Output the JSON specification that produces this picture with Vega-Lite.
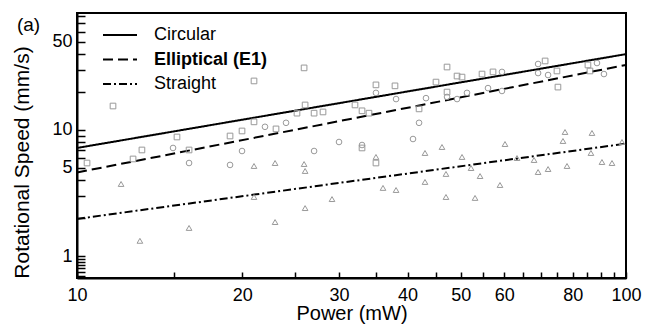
{
  "$schema": "https://vega.github.io/schema/vega-lite/v6.json",
  "width": 549,
  "height": 265,
  "autosize": {"type": "none"},
  "padding": {"left": 77, "top": 13, "right": 20, "bottom": 49},
  "background": "white",
  "config": {
    "font": "Liberation Sans",
    "view": {"stroke": "black", "strokeWidth": 2},
    "axis": {
      "domainColor": "black", "domainWidth": 2, "tickColor": "black", "tickWidth": 1.5,
      "labelColor": "black", "titleColor": "black", "grid": false,
      "labelFont": "Liberation Sans", "titleFont": "Liberation Sans",
      "labelFontSize": 18, "titleFontSize": 21, "titleFontWeight": "normal",
      "labelFlush": false, "labelOverlap": false
    }
  },
  "title": {"text": "(a)", "anchor": "start", "frame": "bounds", "fontSize": 19, "fontWeight": "normal", "font": "Liberation Sans", "offset": 0, "dy": 28, "dx": 5, "color": "black"},
  "datasets": {
    "pts": [
      {"marker": "Circular data", "power": 10.43, "speed": 5.47},
      {"marker": "Circular data", "power": 11.63, "speed": 15.5},
      {"marker": "Circular data", "power": 13.13, "speed": 6.94},
      {"marker": "Circular data", "power": 12.65, "speed": 5.89},
      {"marker": "Circular data", "power": 15.21, "speed": 8.8},
      {"marker": "Circular data", "power": 16.0, "speed": 6.94},
      {"marker": "Circular data", "power": 19.0, "speed": 8.96},
      {"marker": "Circular data", "power": 19.98, "speed": 9.82},
      {"marker": "Circular data", "power": 21.01, "speed": 11.6},
      {"marker": "Circular data", "power": 23.04, "speed": 10.2},
      {"marker": "Circular data", "power": 21.01, "speed": 24.5},
      {"marker": "Circular data", "power": 25.92, "speed": 31.1},
      {"marker": "Circular data", "power": 26.03, "speed": 15.8},
      {"marker": "Circular data", "power": 25.16, "speed": 13.6},
      {"marker": "Circular data", "power": 27.03, "speed": 13.6},
      {"marker": "Circular data", "power": 28.06, "speed": 13.9},
      {"marker": "Circular data", "power": 32.09, "speed": 15.8},
      {"marker": "Circular data", "power": 33.05, "speed": 14.2},
      {"marker": "Circular data", "power": 34.03, "speed": 13.6},
      {"marker": "Circular data", "power": 35.04, "speed": 22.8},
      {"marker": "Circular data", "power": 37.95, "speed": 22.4},
      {"marker": "Circular data", "power": 45.07, "speed": 24.0},
      {"marker": "Circular data", "power": 41.98, "speed": 14.7},
      {"marker": "Circular data", "power": 47.21, "speed": 31.6},
      {"marker": "Circular data", "power": 49.23, "speed": 26.8},
      {"marker": "Circular data", "power": 50.27, "speed": 26.3},
      {"marker": "Circular data", "power": 47.21, "speed": 20.0},
      {"marker": "Circular data", "power": 54.67, "speed": 27.8},
      {"marker": "Circular data", "power": 57.25, "speed": 28.9},
      {"marker": "Circular data", "power": 71.23, "speed": 35.3},
      {"marker": "Circular data", "power": 74.86, "speed": 29.4},
      {"marker": "Circular data", "power": 75.17, "speed": 21.9},
      {"marker": "Circular data", "power": 85.25, "speed": 32.8},
      {"marker": "Circular data", "power": 85.97, "speed": 29.4},
      {"marker": "Circular data", "power": 33.05, "speed": 7.2},
      {"marker": "Circular data", "power": 35.04, "speed": 5.47},
      {"marker": "Elliptical data", "power": 14.96, "speed": 7.2},
      {"marker": "Elliptical data", "power": 16.0, "speed": 5.47},
      {"marker": "Elliptical data", "power": 19.0, "speed": 5.28},
      {"marker": "Elliptical data", "power": 19.98, "speed": 6.81},
      {"marker": "Elliptical data", "power": 22.0, "speed": 10.6},
      {"marker": "Elliptical data", "power": 24.03, "speed": 11.4},
      {"marker": "Elliptical data", "power": 27.03, "speed": 6.81},
      {"marker": "Elliptical data", "power": 30.01, "speed": 8.03},
      {"marker": "Elliptical data", "power": 33.05, "speed": 7.6},
      {"marker": "Elliptical data", "power": 35.04, "speed": 19.7},
      {"marker": "Elliptical data", "power": 38.12, "speed": 17.6},
      {"marker": "Elliptical data", "power": 41.98, "speed": 11.4},
      {"marker": "Elliptical data", "power": 40.93, "speed": 8.48},
      {"marker": "Elliptical data", "power": 43.22, "speed": 17.9},
      {"marker": "Elliptical data", "power": 47.21, "speed": 18.3},
      {"marker": "Elliptical data", "power": 49.23, "speed": 17.6},
      {"marker": "Elliptical data", "power": 51.33, "speed": 19.7},
      {"marker": "Elliptical data", "power": 56.06, "speed": 21.5},
      {"marker": "Elliptical data", "power": 59.44, "speed": 20.4},
      {"marker": "Elliptical data", "power": 59.44, "speed": 28.9},
      {"marker": "Elliptical data", "power": 69.16, "speed": 33.4},
      {"marker": "Elliptical data", "power": 69.16, "speed": 28.3},
      {"marker": "Elliptical data", "power": 72.12, "speed": 27.3},
      {"marker": "Elliptical data", "power": 88.54, "speed": 34.0},
      {"marker": "Elliptical data", "power": 91.17, "speed": 27.8},
      {"marker": "Straight data", "power": 12.03, "speed": 3.73},
      {"marker": "Straight data", "power": 13.02, "speed": 1.32},
      {"marker": "Straight data", "power": 16.0, "speed": 1.67},
      {"marker": "Straight data", "power": 21.01, "speed": 5.18},
      {"marker": "Straight data", "power": 21.01, "speed": 2.94},
      {"marker": "Straight data", "power": 22.95, "speed": 5.47},
      {"marker": "Straight data", "power": 22.95, "speed": 1.86},
      {"marker": "Straight data", "power": 25.92, "speed": 5.37},
      {"marker": "Straight data", "power": 26.03, "speed": 4.73},
      {"marker": "Straight data", "power": 26.03, "speed": 2.4},
      {"marker": "Straight data", "power": 29.14, "speed": 2.83},
      {"marker": "Straight data", "power": 35.04, "speed": 6.11},
      {"marker": "Straight data", "power": 36.09, "speed": 3.47},
      {"marker": "Straight data", "power": 38.12, "speed": 3.34},
      {"marker": "Straight data", "power": 43.04, "speed": 6.57},
      {"marker": "Straight data", "power": 43.04, "speed": 3.87},
      {"marker": "Straight data", "power": 46.22, "speed": 7.33},
      {"marker": "Straight data", "power": 47.0, "speed": 4.48},
      {"marker": "Straight data", "power": 47.0, "speed": 2.94},
      {"marker": "Straight data", "power": 50.27, "speed": 6.11},
      {"marker": "Straight data", "power": 52.21, "speed": 4.99},
      {"marker": "Straight data", "power": 54.22, "speed": 4.31},
      {"marker": "Straight data", "power": 53.09, "speed": 2.89},
      {"marker": "Straight data", "power": 58.95, "speed": 3.66},
      {"marker": "Straight data", "power": 60.2, "speed": 7.74},
      {"marker": "Straight data", "power": 63.31, "speed": 5.99},
      {"marker": "Straight data", "power": 68.0, "speed": 5.78},
      {"marker": "Straight data", "power": 69.16, "speed": 4.64},
      {"marker": "Straight data", "power": 72.12, "speed": 4.9},
      {"marker": "Straight data", "power": 76.77, "speed": 8.18},
      {"marker": "Straight data", "power": 77.43, "speed": 9.64},
      {"marker": "Straight data", "power": 78.08, "speed": 5.18},
      {"marker": "Straight data", "power": 86.33, "speed": 6.57},
      {"marker": "Straight data", "power": 86.7, "speed": 9.47},
      {"marker": "Straight data", "power": 90.41, "speed": 5.57},
      {"marker": "Straight data", "power": 94.3, "speed": 5.47},
      {"marker": "Straight data", "power": 98.33, "speed": 8.03}
    ],
    "fits": [
      {"series": "Circular", "power": 10, "speed": 7.2},
      {"series": "Circular", "power": 100, "speed": 40},
      {"series": "Elliptical (E1)", "power": 10, "speed": 4.6},
      {"series": "Elliptical (E1)", "power": 100, "speed": 32.8},
      {"series": "Straight", "power": 10, "speed": 1.97},
      {"series": "Straight", "power": 100, "speed": 7.8}
    ]
  },
  "layer": [
    {
      "data": {"name": "fits"},
      "mark": {"type": "line", "strokeWidth": 2, "color": "black"},
      "encoding": {
        "x": {
          "field": "power", "type": "quantitative",
          "scale": {"type": "log", "domain": [10, 100], "nice": false},
          "axis": {
            "title": "Power (mW)",
            "titleFontSize": 20,
            "values": [10, 15, 20, 25, 30, 35, 40, 45, 50, 55, 60, 65, 70, 75, 80, 85, 90, 95, 100],
            "labelExpr": "indexof([10,20,30,40,50,60,80,100], datum.value) >= 0 ? format(datum.value, 'd') : ''",
            "tickSize": -6,
            "labelPadding": 14,
            "titlePadding": -1
          }
        },
        "y": {
          "field": "speed", "type": "quantitative",
          "scale": {"type": "log", "domain": [0.669, 84.8], "nice": false},
          "axis": {
            "title": "Rotational Speed (mm/s)",
            "values": [0.7, 0.75, 0.8, 0.85, 0.9, 0.95, 1, 2, 3, 4, 5, 6, 7, 8, 9, 10, 20, 30, 40, 50, 60, 70, 80],
            "labelExpr": "indexof([1,5,10,50], datum.value) >= 0 ? format(datum.value, 'd') : ''",
            "tickSize": -8,
            "labelPadding": 13,
            "titlePadding": 19,
            "titleY": 149
          }
        },
        "strokeDash": {
          "field": "series", "type": "nominal",
          "scale": {"domain": ["Circular", "Elliptical (E1)", "Straight"], "range": [[1, 0], [10, 5], [8, 3, 2, 3]]},
          "legend": {
            "title": null, "orient": "none", "legendX": 34, "legendY": 13, "padding": 0,
            "symbolType": "M-3.4,0H3.4", "symbolSize": 100, "symbolStrokeWidth": 2,
            "symbolStrokeColor": "black", "symbolFillColor": "transparent",
            "labelFontSize": 18, "labelColor": "black",
            "labelOffset": 25, "rowPadding": 6.5,
            "encode": {"labels": {"update": {"fontWeight": {"signal": "datum.label === 'Elliptical (E1)' ? 'bold' : 'normal'"}}}}
          }
        }
      }
    },
    {
      "data": {"name": "pts"},
      "mark": {"type": "point", "filled": false, "strokeWidth": 1, "opacity": 1, "color": "#999999", "size": 32},
      "encoding": {
        "x": {"field": "power", "type": "quantitative"},
        "y": {"field": "speed", "type": "quantitative"},
        "shape": {"field": "marker", "type": "nominal", "scale": {"domain": ["Circular data", "Elliptical data", "Straight data"], "range": ["square", "circle", "triangle-up"]}, "legend": null}
      }
    }
  ]
}
